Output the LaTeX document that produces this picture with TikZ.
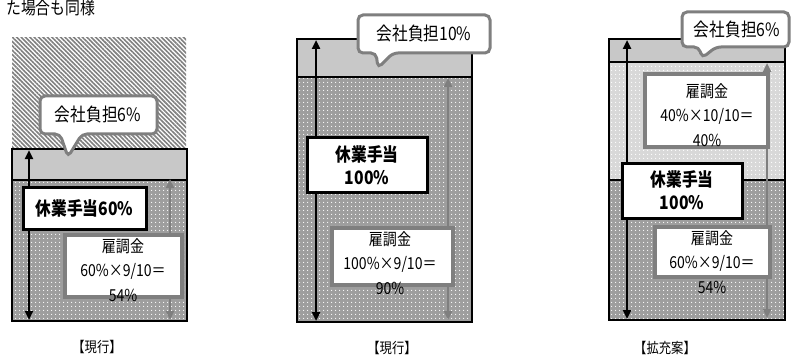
\documentclass[tikz,border=0pt]{standalone}
\usepackage{fontspec}
\setmainfont{Noto Sans CJK JP}[FakeStretch=0.85]
\usetikzlibrary{patterns.meta,arrows.meta}
\definecolor{bandgray}{HTML}{C8C8C8}
\definecolor{dotdark}{HTML}{9E9E9E}
\definecolor{dotlight}{HTML}{D8D8D8}
\definecolor{hatchgray}{HTML}{808080}
\definecolor{boxgray}{HTML}{7F7F7F}
\tikzset{
  hatchfill/.style={pattern={Lines[angle=-45,distance=3.1pt,line width=1.6pt]},pattern color=hatchgray},
  bandfill/.style={fill=bandgray},
  darkdots/.style={fill=dotdark,postaction={pattern={Dots[distance=4pt,radius=0.75pt]},pattern color=white}},
  lightdots/.style={fill=dotlight,postaction={pattern={Dots[distance=4pt,radius=0.75pt]},pattern color=white}},
  outline/.style={draw=black,line width=2.6pt},
  divline/.style={draw=black,line width=2pt},
  blackarrow/.style={draw=black,line width=2.6pt,<->,>={Triangle[width=8pt,length=9pt]}},
  grayarrow/.style={draw=boxgray,line width=2.6pt,<->,>={Triangle[width=8pt,length=9pt]}},
  kbox/.style={draw=black,line width=3pt,fill=white,inner sep=0pt,align=center,
     font=\fontsize{18.5}{23}\selectfont\bfseries},
  gbox/.style={draw=boxgray,line width=3.6pt,fill=white,inner sep=0pt},
  gtext/.style={inner sep=0pt,align=center,font=\fontsize{16.5}{24.5}\selectfont},
  callout/.style={draw=boxgray,line width=3pt,fill=white,rounded corners=5pt},
  ctext/.style={inner sep=0pt,font=\fontsize{18.5}{20}\selectfont},
  caption/.style={inner sep=0pt,font=\fontsize{14.5}{16}\selectfont},
}
\begin{document}
\begin{tikzpicture}[x=1pt,y=-1pt]
\useasboundingbox (0,0) rectangle (791,358);
\fill[white] (0,0) rectangle (791,358);
\node[anchor=west,inner sep=0pt,font=\fontsize{17.5}{18}\selectfont] (note) at (6,7.5) {た場合も同様};

% ---------- Panel 1 ----------
\path[hatchfill] (12,38) rectangle (186,149);
\path[bandfill] (12,149) rectangle (187,180);
\path[darkdots] (12,180) rectangle (187,321);
\draw[outline] (12,149) rectangle (187,321);
\draw[divline] (12,180) -- (187,180);
\coordinate (a1t) at (29,150);
\coordinate (a1b) at (29,320);
\draw[blackarrow] (a1t) -- (a1b);
\coordinate (g1t) at (170,179);
\coordinate (g1b) at (170,320);
\draw[grayarrow] (g1t) -- (g1b);
\node[kbox,minimum width=123pt,minimum height=42pt] (k1) at (84.5,208) {休業手当60\%};
\node[gbox,minimum width=117pt,minimum height=62pt] (b1) at (123.5,266) {};
\node[gtext] (t1) at (123,270) {雇調金\\60\%×9/10＝\\54\%};
\draw[callout] (60,134) -- (40,134) -- (40,96) -- (157,96) -- (157,134) -- (82,134) -- (68,157) -- cycle;
\node[ctext] (c1) at (98,115) {会社負担6\%};
\node[caption] (l1) at (97,347) {【現行】};

% ---------- Panel 2 ----------
\path[bandfill] (297,39) rectangle (472,77);
\path[darkdots] (297,77) rectangle (472,322);
\draw[outline] (297,39) rectangle (472,322);
\draw[divline] (297,77) -- (472,77);
\coordinate (a2t) at (316,40);
\coordinate (a2b) at (316,321);
\draw[blackarrow] (a2t) -- (a2b);
\coordinate (g2t) at (448,78);
\coordinate (g2b) at (448,320);
\draw[grayarrow] (g2t) -- (g2b);
\node[kbox,minimum width=120pt,minimum height=54pt] (k2) at (367,165) {休業手当\\100\%};
\node[gbox,minimum width=121pt,minimum height=57pt] (b2) at (392.5,256.5) {};
\node[gtext] (t2) at (390,263) {雇調金\\100\%×9/10＝\\90\%};
\draw[callout] (376,53) -- (358,53) -- (358,15) -- (490,15) -- (490,53) -- (393,53) -- (378,68) -- cycle;
\node[ctext] (c2) at (424,34) {会社負担10\%};
\node[caption] (l2) at (392,348) {【現行】};

% ---------- Panel 3 ----------
\path[bandfill] (609,39) rectangle (785,62);
\path[lightdots] (609,62) rectangle (785,180);
\path[darkdots] (609,180) rectangle (785,320);
\draw[outline] (609,39) rectangle (785,320);
\draw[divline] (609,62) -- (785,62);
\draw[divline] (609,180) -- (785,180);
\coordinate (a3t) at (627,40);
\coordinate (a3b) at (627,319);
\draw[blackarrow] (a3t) -- (a3b);
\coordinate (g3t) at (767,63);
\coordinate (g3b) at (767,318);
\draw[grayarrow] (g3t) -- (g3b);
\node[gbox,minimum width=123pt,minimum height=73pt] (b3u) at (706.5,110.5) {};
\node[gtext] (t3u) at (707,115) {雇調金\\40\%×10/10＝\\40\%};
\node[kbox,minimum width=120pt,minimum height=55pt] (k3) at (682,190.5) {休業手当\\100\%};
\node[gbox,minimum width=115pt,minimum height=50pt] (b3l) at (712.5,252) {};
\node[gtext] (t3l) at (712,262) {雇調金\\60\%×9/10＝\\54\%};
\draw[callout] (699,47) -- (682,47) -- (682,12) -- (789,12) -- (789,47) -- (716,47) -- (702,58) -- cycle;
\node[ctext] (c3) at (737,30) {会社負担6\%};
\node[caption] (l3) at (665,348) {【拡充案】};
\end{tikzpicture}
\end{document}
